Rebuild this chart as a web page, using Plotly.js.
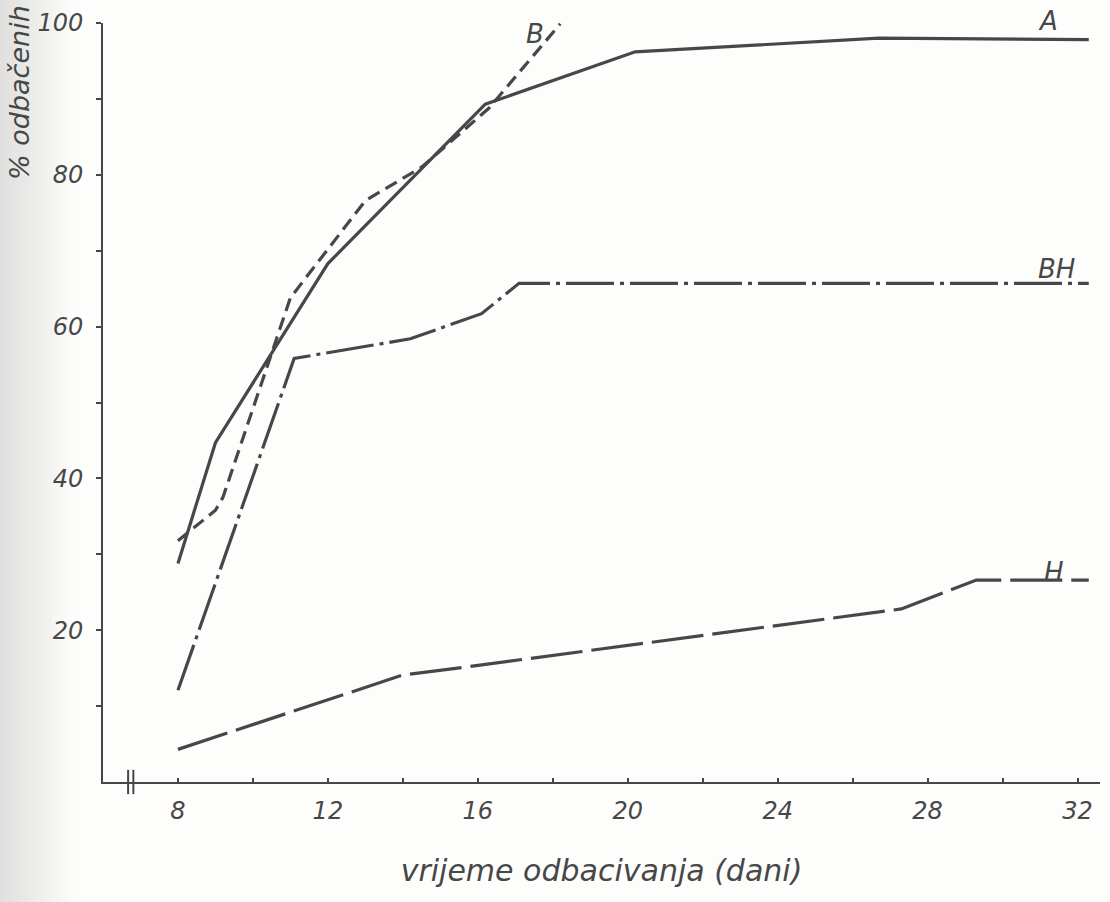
<!DOCTYPE html>
<html>
<head>
<meta charset="utf-8">
<script src="https://cdn.plot.ly/plotly-3.0.1.min.js"></script>
<style>html,body{margin:0;padding:0;background:#fff;}#chart{width:1110px;height:902px;}</style>
</head>
<body>
<div id="chart"></div>
<script>
// Curve A (solid)
const aX = [8, 9, 12, 16.2, 20.2, 26.7, 32.3];
const aY = [28.8, 44.7, 68.3, 89.3, 96.2, 98.0, 97.8];
// Curve B (short dashes)
const bX = [8, 9, 9.2, 11, 13, 14.5, 16.3, 18.2];
const bY = [31.8, 35.8, 37.5, 63.8, 76.6, 81.0, 88.8, 99.9];
// Curve BH (dash-dot)
const bhX = [8, 11.1, 14.2, 16.1, 17.1, 32.3];
const bhY = [12.1, 55.8, 58.4, 61.7, 65.7, 65.7];
// Curve H (long dashes)
const hX = [8, 14, 15.3, 27.3, 29.3, 32.3];
const hY = [4.3, 14.1, 14.9, 22.8, 26.6, 26.6];

const xTickVals = [8, 10, 12, 14, 16, 18, 20, 22, 24, 26, 28, 30, 32];
const xTickText = ['8', '', '12', '', '16', '', '20', '', '24', '', '28', '', '32'];
const yTickVals = [10, 20, 30, 40, 50, 60, 70, 80, 90, 100];
const yTickText = ['', '20', '', '40', '', '60', '', '80', '', '100'];

const curveLabels = ['A', 'B', 'BH', 'H'];
const curveLabelX = [31.2, 17.52, 31.45, 31.36];
const curveLabelY = [99.9, 98.5, 67.6, 27.7];

const ink = '#474747';
const fontFam = '"DejaVu Sans", "Liberation Sans", sans-serif';

function tr(x, y, dash) {
  return {x: x, y: y, mode: 'lines', type: 'scatter', hoverinfo: 'skip',
    line: {color: ink, width: 3.2, dash: dash, shape: 'linear'}};
}

const traces = [
  tr(aX, aY, 'solid'),
  tr(bX, bY, '13px,7px'),
  tr(bhX, bhY, '48px,6px,4px,6px'),
  tr(hX, hY, '52px,9px')
];

const annotations = curveLabels.map((t, i) => ({
  text: t, x: curveLabelX[i], y: curveLabelY[i],
  xref: 'x', yref: 'y', showarrow: false, yshift: i === 0 ? 3 : 0,
  font: {family: fontFam, size: 26, color: ink, style: 'italic'}
}));
annotations.push({
  text: '% odbačenih', xref: 'paper', yref: 'paper',
  x: -0.083, y: 1.026, xanchor: 'center', yanchor: 'top',
  textangle: -90, showarrow: false,
  font: {family: fontFam, size: 27, color: ink, style: 'italic'}
});

// scan shadow at left edge
const shapes = [];
const bands = 14;
for (let i = 0; i < bands; i++) {
  shapes.push({type: 'rect', xref: 'paper', yref: 'paper',
    x0: -0.1033 + i * 0.0052, x1: -0.1033 + (i + 1) * 0.0052, y0: -0.16, y1: 1.04,
    fillcolor: 'rgba(150,150,150,' + (0.28 * (1 - i / bands)).toFixed(3) + ')',
    line: {width: 0}, layer: 'below'});
}
// axis break marks
[6.67, 6.81].forEach(v => shapes.push({type: 'line', xref: 'x', yref: 'paper',
  x0: v, x1: v, y0: -0.016, y1: 0.016, line: {color: ink, width: 2}}));

const layout = {
  width: 1110, height: 902,
  margin: {l: 103, r: 10, t: 23, b: 120},
  paper_bgcolor: '#fdfdfc', plot_bgcolor: 'rgba(0,0,0,0)',
  showlegend: false,
  font: {family: fontFam, color: ink},
  xaxis: {
    range: [6.0, 32.6], showgrid: false, zeroline: false,
    showline: true, linecolor: ink, linewidth: 2,
    tickmode: 'array', tickvals: xTickVals, ticktext: xTickText,
    ticks: 'inside', ticklen: 4, tickwidth: 2, tickcolor: ink,
    ticklabelstandoff: 6,
    tickfont: {family: fontFam, size: 24, color: ink, style: 'italic'},
    title: {text: 'vrijeme odbacivanja (dani)', standoff: 36,
      font: {family: fontFam, size: 30, color: ink, style: 'italic'}}
  },
  yaxis: {
    range: [0, 100], showgrid: false, zeroline: false,
    showline: true, linecolor: ink, linewidth: 2,
    tickmode: 'array', tickvals: yTickVals, ticktext: yTickText,
    ticks: 'outside', ticklen: 5, tickwidth: 2, tickcolor: ink,
    ticklabelstandoff: 8,
    tickfont: {family: fontFam, size: 24, color: ink, style: 'italic'}
  },
  annotations: annotations,
  shapes: shapes
};

Plotly.newPlot('chart', traces, layout, {displayModeBar: false, staticPlot: true});
</script>
</body>
</html>
